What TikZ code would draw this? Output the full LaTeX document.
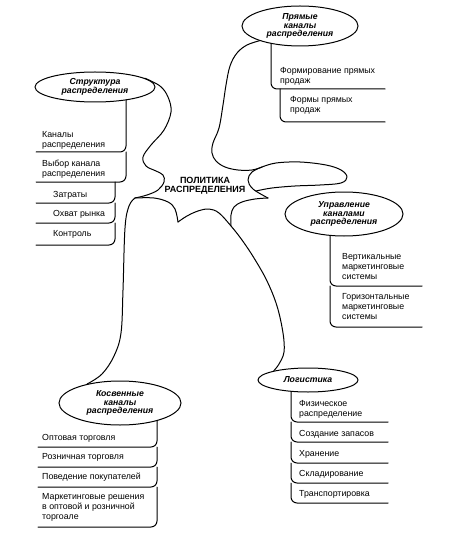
\documentclass[tikz,border=0pt]{standalone}
\usepackage{fontspec}
\setmainfont{Liberation Sans}
\usetikzlibrary{shapes.geometric,backgrounds}
\begin{document}
\begin{tikzpicture}[x=1pt,y=-1pt,
  oval/.style={draw, ellipse, line width=1pt, fill=white, inner sep=0pt, align=center,
    font=\fontsize{8.7}{8.5}\selectfont\bfseries\itshape},
  item/.style={anchor=west, align=left, inner sep=0pt, font=\fontsize{8.8}{10}\selectfont},
  ln/.style={line width=1pt, line cap=round, line join=round},
  box/.style={ln, rounded corners=6pt},
  tend/.style={ln, smooth, tension=0.6}
]
\useasboundingbox (0,0) rectangle (448,540);

% ellipses
\node[oval, minimum width=116pt, minimum height=40pt] (prym) at (300,26) {Прямые\\каналы\\распределения};
\node[oval, minimum width=120pt, minimum height=30pt] (struct) at (95,87) {Структура\\распределения};
\node[oval, minimum width=118pt, minimum height=44pt] (upr) at (344,214) {Управление\\каналами\\распределения};
\node[oval, minimum width=122pt, minimum height=44pt] (kos) at (120,403) {Косвенные\\каналы\\распределения};
\node[oval, minimum width=100pt, minimum height=24pt] (log) at (308,380) {Логистика};

% centre
\node[font=\fontsize{9}{9.5}\selectfont\bfseries, align=center, inner sep=0pt] (pol) at (205,186) {ПОЛИТИКА\\РАСПРЕДЕЛЕНИЯ};

% spider outline
\coordinate (lp) at (135,198);
\coordinate (bp) at (178,222);
\coordinate (rp) at (268,198);
\coordinate (jn) at (231,226);
\coordinate (jr) at (262,167);
\draw[tend] plot coordinates {(struct.10) (160,86) (168,97) (171,112) (164,130) (151,145) (143,157) (146,166) (156,171) (163,175) (164,182) (158,190) (147,195) (lp)};
\draw[tend] plot coordinates {(lp) (129,206) (125,228) (123,290) (121,333) (114,356) (102,374) (kos.150)};
\draw[tend] plot coordinates {(lp) (154,198) (168,202) (175,209) (bp)};
\draw[tend] plot coordinates {(bp) (187,216) (198,211) (209,209) (219,213) (jn) (242,240) (254,258) (267,281) (277,306) (283,333) (284,352) (279,364) (log.165)};
\draw[tend] plot coordinates {(jn) (231,215) (234,207) (242,202) (255,199) (rp)};
\draw[tend] plot coordinates {(jr) (252,172) (248,180) (253,189) (rp)};
\draw[tend] plot coordinates {(prym.200) (247,45) (237,53) (230,66) (226,85) (223,105) (219,128) (213,143) (212,153) (216,161) (225,167) (238,170) (252,170) (jr)};
\draw[tend] plot coordinates {(jr) (276,163) (300,162) (326,165) (341,170) (347,177) (341,183) (320,185) (295,186) (272,188) (256,191)};

% lists
\begin{scope}[on background layer]
\draw[box] (271,26) -- (271,89) -- (385,89);
\draw[box] (280,89) -- (280,122) -- (385,122);

\draw[box] (126,87) -- (126,152) -- (36,152);
\draw[box] (126,152) -- (126,182) -- (36,182);
\draw[box] (115,182) -- (115,203) -- (36,203);
\draw[box] (115,203) -- (115,223) -- (36,223);
\draw[box] (115,223) -- (115,245) -- (36,245);

\draw[box] (330,214) -- (330,286) -- (422,286);
\draw[box] (330,286) -- (330,327) -- (422,327);

\draw[box] (157,403) -- (157,447) -- (38,447);
\draw[box] (157,447) -- (157,467) -- (38,467);
\draw[box] (157,467) -- (157,487) -- (38,487);
\draw[box] (157,487) -- (157,527) -- (38,527);

\draw[box] (291,380) -- (291,422) -- (388,422);
\draw[box] (291,422) -- (291,442) -- (388,442);
\draw[box] (291,442) -- (291,463) -- (388,463);
\draw[box] (291,463) -- (291,483) -- (388,483);
\draw[box] (291,483) -- (291,503) -- (388,503);
\end{scope}

\node[item] (p1) at (280,76) {Формирование прямых\\продаж};
\node[item] (p2) at (290,105) {Формы прямых\\продаж};

\node[item] (s1) at (42,140) {Каналы\\распределения};
\node[item] (s2) at (42,169) {Выбор канала\\распределения};
\node[item] (s3) at (53,195) {Затраты};
\node[item] (s4) at (53,214) {Охват рынка};
\node[item] (s5) at (53,234) {Контроль};

\node[item] (u1) at (342,267) {Вертикальные\\маркетинговые\\системы};
\node[item] (u2) at (342,307) {Горизонтальные\\маркетинговые\\системы};

\node[item] (k1) at (42,438) {Оптовая торговля};
\node[item] (k2) at (42,457) {Розничная торговля};
\node[item] (k3) at (42,477) {Поведение покупателей};
\node[item] (k4) at (42,507) {Маркетинговые решения\\в оптовой и розничной\\торгоале};

\node[item] (l1) at (299,409) {Физическое\\распределение};
\node[item] (l2) at (299,434) {Создание запасов};
\node[item] (l3) at (299,454) {Хранение};
\node[item] (l4) at (299,474) {Складирование};
\node[item] (l5) at (299,494) {Транспортировка};
\end{tikzpicture}
\end{document}
